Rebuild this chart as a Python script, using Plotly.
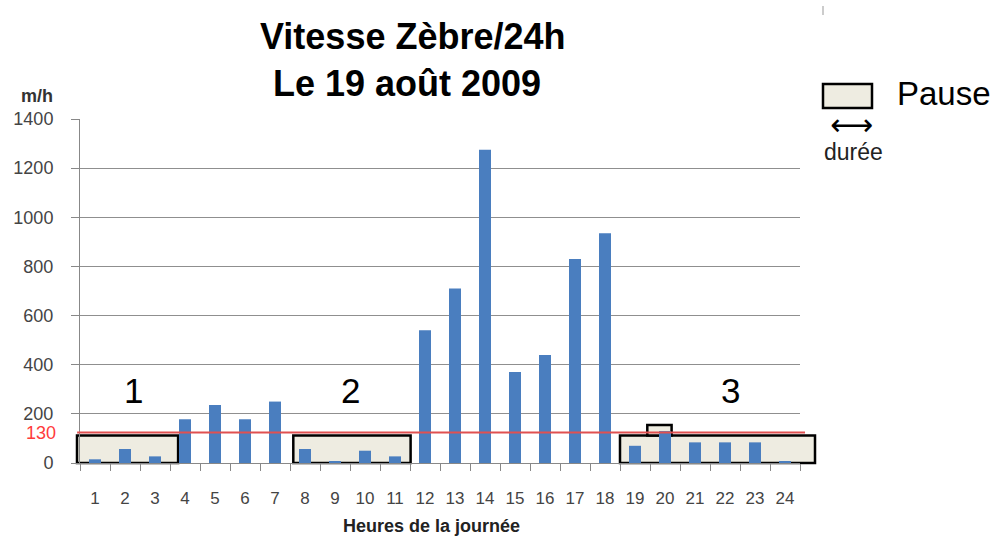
import plotly.graph_objects as go

# Hourly speed of the zebra over one day (m/h)
hours = [str(h) for h in range(1, 25)]
speed = [15, 57, 27, 178, 236, 178, 250, 57, 8, 50, 27, 540,
         710, 1275, 370, 440, 830, 935, 70, 130, 84, 84, 84, 8]

threshold = 130
y_ticks = [0, 200, 400, 600, 800, 1000, 1200, 1400]

# Rest periods: (start, end) as 0-based hour positions, with a label
pauses = [(-0.6, 2.77, "1"), (6.61, 10.52, "2"), (17.5, 24.0, "3")]
pause_label_x = [1.27, 8.5, 21.17]

Y_MAX = 1400
N = len(hours)
FONT = "Liberation Sans"


def px(idx):
    """Category index -> paper x."""
    return (idx + 0.5) / N


def py(v):
    """Data value -> paper y."""
    return v / Y_MAX


fig = go.Figure()
fig.add_trace(go.Bar(
    x=hours, y=speed, width=0.4,
    marker=dict(color="#4a7ebf", line=dict(width=0)),
    showlegend=False,
))

shapes = []
annotations = []
box_top = 112
for (x0, x1, label), lx in zip(pauses, pause_label_x):
    shapes.append(dict(type="rect", xref="paper", yref="paper",
                       x0=px(x0), x1=px(x1), y0=py(0), y1=py(box_top),
                       fillcolor="#eeece1", line=dict(color="black", width=2.5),
                       layer="below"))
    annotations.append(dict(xref="paper", yref="paper",
                            x=px(lx), y=py(297), xanchor="center", yanchor="middle",
                            text=label, showarrow=False,
                            font=dict(family=FONT, size=35, color="black")))
# small bump above the third pause
shapes.append(dict(type="rect", xref="paper", yref="paper",
                   x0=px(18.41), x1=px(19.22), y0=py(box_top), y1=py(155),
                   fillcolor="#eeece1", line=dict(color="black", width=2.5),
                   layer="below"))

# threshold line
shapes.append(dict(type="line", xref="paper", yref="paper",
                   x0=-0.004, x1=1.007, y0=py(threshold - 6), y1=py(threshold - 6),
                   line=dict(color="#e05050", width=2), layer="above"))
annotations.append(dict(xref="paper", yref="paper", x=-0.03, y=py(threshold - 6),
                        xanchor="right", yanchor="middle", text=str(threshold),
                        showarrow=False,
                        font=dict(family=FONT, size=18, color="#ff3b3b")))

# Pixel-based helpers for the text and legend around the plot area
W = 720.0
H = 344.0


def ppx(p):
    return (p - 80) / W


def ppy(p):
    return (463 - p) / H


shapes.append(dict(type="rect", xref="paper", yref="paper",
                   x0=ppx(823), x1=ppx(872), y0=ppy(108), y1=ppy(84),
                   fillcolor="#eeece1", line=dict(color="black", width=2.5)))
shapes.append(dict(type="line", xref="paper", yref="paper",
                   x0=ppx(823), x1=ppx(823), y0=ppy(6), y1=ppy(15),
                   line=dict(color="#999999", width=1)))
annotations += [
    dict(xref="paper", yref="paper", x=ppx(895), y=ppy(93), xanchor="left",
         yanchor="middle", text="Pause", showarrow=False,
         font=dict(family=FONT, size=33, color="black")),
    dict(xref="paper", yref="paper", x=ppx(851), y=ppy(124), xanchor="center",
         yanchor="middle", text="⟷", showarrow=False,
         font=dict(family="DejaVu Sans", size=30, color="black")),
    dict(xref="paper", yref="paper", x=ppx(853), y=ppy(152), xanchor="center",
         yanchor="middle", text="durée", showarrow=False,
         font=dict(family=FONT, size=23, color="#222222")),
    dict(xref="paper", yref="paper", x=ppx(413), y=ppy(36), xanchor="center",
         yanchor="middle", text="<b>Vitesse Zèbre/24h</b>", showarrow=False,
         font=dict(family=FONT, size=36, color="black")),
    dict(xref="paper", yref="paper", x=ppx(407), y=ppy(83), xanchor="center",
         yanchor="middle", text="<b>Le 19 août 2009</b>", showarrow=False,
         font=dict(family=FONT, size=36, color="black")),
    dict(xref="paper", yref="paper", x=ppx(37), y=ppy(96), xanchor="center",
         yanchor="middle", text="<b>m/h</b>", showarrow=False,
         font=dict(family=FONT, size=18, color="#333333")),
    dict(xref="paper", yref="paper", x=ppx(431), y=ppy(526), xanchor="center",
         yanchor="middle", text="<b>Heures de la journée</b>", showarrow=False,
         font=dict(family=FONT, size=18, color="#222222")),
]

fig.update_layout(
    width=999, height=540,
    margin=dict(l=80, r=199, t=119, b=77),
    paper_bgcolor="white", plot_bgcolor="white",
    shapes=shapes, annotations=annotations,
    xaxis=dict(type="category", range=[-0.5, N - 0.5], tickson="boundaries",
               ticks="outside", ticklen=7, tickcolor="#888888",
               showline=True, linecolor="#888888", linewidth=1,
               showgrid=False, ticklabelstandoff=20,
               tickfont=dict(family=FONT, size=17, color="#444444")),
    yaxis=dict(range=[0, Y_MAX], tickvals=y_ticks, ticks="outside", ticklen=8,
               tickcolor="#888888", showline=True, linecolor="#888888",
               gridcolor="#8f8f8f", gridwidth=1, zeroline=False,
               ticklabelstandoff=14,
               tickfont=dict(family=FONT, size=18, color="#444444")),
)

fig.write_html("out.html")
